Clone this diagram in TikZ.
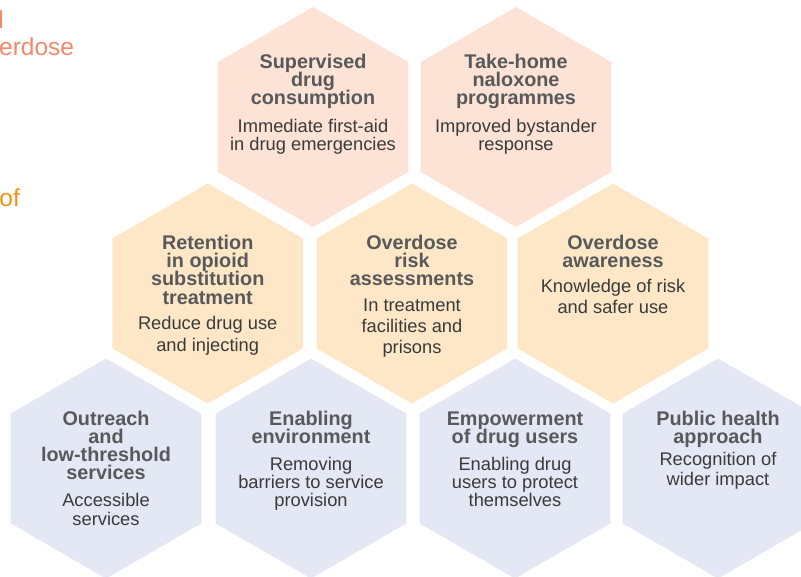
\documentclass[tikz,border=0pt]{standalone}
\usepackage{fontspec}
\setmainfont{Liberation Sans}
\usetikzlibrary{shapes.geometric}
\definecolor{hexpink}{HTML}{FCE3D6}
\definecolor{hexorange}{HTML}{FDE7C7}
\definecolor{hexblue}{HTML}{E3E8F4}
\definecolor{headgrey}{HTML}{58595B}
\definecolor{bodygrey}{HTML}{3A3A3A}
\definecolor{salmon}{HTML}{EF8A6B}
\definecolor{deeporange}{HTML}{F39210}
\lineskiplimit=-100pt
\tikzset{
  hexbox/.style={regular polygon, regular polygon sides=6, shape border rotate=30,
    minimum size=220pt, inner sep=0pt, outer sep=0pt, draw=none},
  headtext/.style={anchor=base, inner sep=0pt, align=center, text=headgrey,
    font=\fontsize{19.8}{18.3}\selectfont\bfseries},
  bodytext/.style={anchor=base, inner sep=0pt, align=center, text=bodygrey,
    font=\fontsize{18.3}{#1}\selectfont},
  bodytext/.default=18.3,
  sidetext/.style={anchor=base west, inner sep=0pt, font=\fontsize{24.5}{28}\selectfont}
}
\begin{document}
\begin{tikzpicture}[x=1pt,y=-1pt]
\useasboundingbox (0,0) rectangle (801,577);
\clip (0,0) rectangle (801,577);
% hexagons
\node[hexbox, fill=hexpink]   (hA) at (313,117) {};
\node[hexbox, fill=hexpink]   (hB) at (516,117) {};
\node[hexbox, fill=hexorange] (hC) at (207.7,293.5) {};
\node[hexbox, fill=hexorange] (hD) at (412,293.5) {};
\node[hexbox, fill=hexorange] (hE) at (613,293.5) {};
\node[hexbox, fill=hexblue]   (hF) at (106,468.5) {};
\node[hexbox, fill=hexblue]   (hG) at (311,468.5) {};
\node[hexbox, fill=hexblue]   (hH) at (515,468.5) {};
\node[hexbox, fill=hexblue]   (hI) at (718,468.5) {};
% top row texts (positions are last-line baselines)
\node[headtext] (tA) at (313,104.9) {Supervised\\drug\\consumption};
\node[bodytext=17.5] (bA) at (313,150.2) {Immediate first-aid\\in drug emergencies};
\node[headtext] (tB) at (516,104.9) {Take-home\\naloxone\\programmes};
\node[bodytext=17.5] (bB) at (516,150.2) {Improved bystander\\response};
% middle row texts
\node[headtext] (tC) at (207.7,304.2) {Retention\\in opioid\\substitution\\treatment};
\node[bodytext=22] (bC) at (207.7,352) {Reduce drug use\\and injecting};
\node[headtext] (tD) at (412,285.9) {Overdose\\risk\\assessments};
\node[bodytext=21] (bD) at (412,353.7) {In treatment\\facilities and\\prisons};
\node[headtext] (tE) at (613,267.6) {Overdose\\awareness};
\node[bodytext=21.3] (bE) at (613,314) {Knowledge of risk\\and safer use};
% bottom row texts
\node[headtext] (tF) at (106,479.9) {Outreach\\and\\low-threshold\\services};
\node[bodytext=18.3] (bF) at (106,525) {Accessible\\services};
\node[headtext] (tG) at (311,443.3) {Enabling\\environment};
\node[bodytext=18.3] (bG) at (311,506.6) {Removing\\barriers to service\\provision};
\node[headtext] (tH) at (515,443.3) {Empowerment\\of drug users};
\node[bodytext=18.3] (bH) at (515,506.6) {Enabling drug\\users to protect\\themselves};
\node[headtext] (tI) at (718,443.3) {Public health\\approach};
\node[bodytext=20] (bI) at (718,485) {Recognition of\\wider impact};
% cut-off side texts
\node[sidetext, text=salmon] (s1) at (-1.9,29) {l};
\node[sidetext, text=salmon] (s2) at (-1,56) {erdose};
\node[sidetext, text=deeporange] (s3) at (-0.8,207) {of};
\end{tikzpicture}
\end{document}
